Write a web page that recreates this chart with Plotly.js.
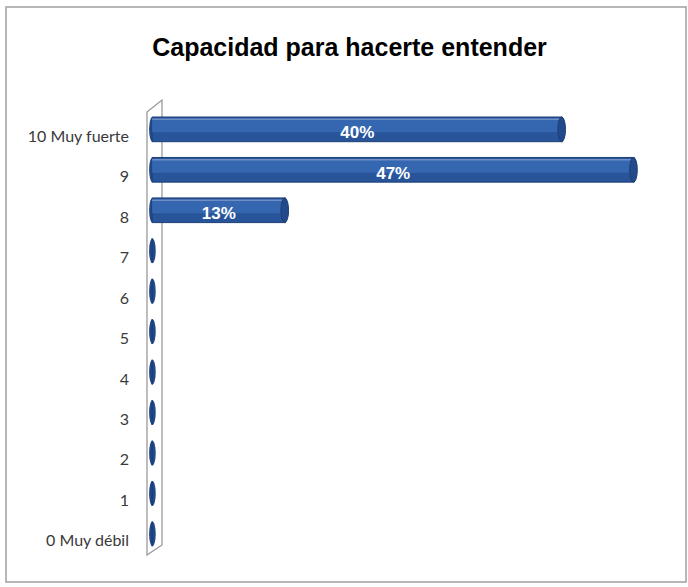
<!DOCTYPE html>
<html>
<head>
<meta charset="utf-8">
<script src="https://cdn.plot.ly/plotly-3.0.1.min.js"></script>
<style>html,body{margin:0;padding:0;background:#fff;}#chart{width:688px;height:587px;}</style>
</head>
<body>
<div id="chart"></div>
<script>
const categories = ["0 Muy débil", "1", "2", "3", "4", "5", "6", "7", "8", "9", "10 Muy fuerte"];
const values = [0, 0, 0, 0, 0, 0, 0, 0, 13, 47, 40];
const labels = ["", "", "", "", "", "", "", "", "13%", "47%", "40%"];
const chartTitle = "Capacidad para hacerte entender";

// visual style constants (not data)
const BAR_W = 0.61;      // bar thickness in category units
const LIFT = 0.17;       // 3D perspective lift of bars above the label line
const baseColor = "#28549A";
const lightColor = "#3567B1";
const capColor = "#22498A";

const baseTrace = {
  type: "bar", orientation: "h", y: categories, x: values,
  width: BAR_W, offset: LIFT - BAR_W / 2,
  marker: {color: baseColor, line: {color: "#1D3F75", width: 1}},
  hoverinfo: "skip"
};
const highlightTrace = {
  type: "bar", orientation: "h", y: categories, x: values,
  width: BAR_W * 0.55, offset: LIFT - BAR_W * 0.12,
  marker: {color: lightColor, line: {width: 0}},
  hoverinfo: "skip"
};
const edgeTrace = {
  type: "bar", orientation: "h", y: categories, x: values,
  width: BAR_W * 0.06, offset: LIFT + BAR_W * 0.38,
  marker: {color: "#6D8FC6", line: {width: 0}},
  hoverinfo: "skip"
};
const textTrace = {
  type: "bar", orientation: "h", y: categories, x: values,
  width: BAR_W, offset: LIFT - BAR_W / 2 - 0.09,
  marker: {color: "rgba(0,0,0,0)", line: {width: 0}},
  text: labels, textposition: "inside", insidetextanchor: "middle",
  textangle: 0, constraintext: "none",
  textfont: {family: "Liberation Sans, Arial, sans-serif", size: 17, color: "#ffffff", weight: "bold"},
  hoverinfo: "skip"
};

const shapes = [
  {type: "rect", xref: "paper", yref: "paper", x0: -0.2697, x1: 1.0405, y0: -0.0472, y1: 1.245,
   line: {color: "#a0a0a0", width: 1.5}, fillcolor: "rgba(0,0,0,0)", layer: "below"},
  {type: "path", xref: "paper", yref: "paper",
   path: "M 0.0019 0.0135 L 0.0019 1.009 L 0.0308 1.036 L 0.0308 0.036 Z",
   line: {color: "#9a9a9a", width: 1.3}, fillcolor: "rgba(0,0,0,0)", layer: "below"}
];
// cylinder caps: start cap for every category, end cap for non-zero values
values.forEach((v, i) => {
  shapes.push({type: "circle", xref: "x", yref: "y", layer: "below",
    x0: -0.3, x1: 0.35, y0: i + LIFT - BAR_W / 2, y1: i + LIFT + BAR_W / 2,
    fillcolor: capColor, line: {width: 0}});
  if (v > 0) {
    shapes.push({type: "circle", xref: "x", yref: "y", layer: "above",
      x0: v - 0.45, x1: v + 0.3, y0: i + LIFT - BAR_W / 2, y1: i + LIFT + BAR_W / 2,
      fillcolor: capColor, line: {color: "#1D3F75", width: 1}});
  }
});

const layout = {
  width: 688, height: 587,
  margin: {l: 146, r: 23, t: 116, b: 26},
  paper_bgcolor: "#ffffff", plot_bgcolor: "rgba(0,0,0,0)",
  showlegend: false, barmode: "overlay",
  title: {
    text: chartTitle,
    font: {family: "Liberation Sans, Arial, sans-serif", size: 25, color: "#000000", weight: "bold"},
    x: 0.508, xanchor: "center", y: 0.92, yanchor: "middle"
  },
  xaxis: {range: [-0.6, 50], visible: false, fixedrange: true},
  yaxis: {
    type: "category", categoryorder: "array", categoryarray: categories,
    range: [-0.5, 10.5],
    showgrid: false, zeroline: false, showline: false,
    ticks: "", ticklabelstandoff: 16,
    tickfont: {family: "Lato, sans-serif", size: 16, color: "#3a3a3a"}
  },
  shapes: shapes
};

Plotly.newPlot("chart", [baseTrace, highlightTrace, edgeTrace, textTrace], layout, {displayModeBar: false, staticPlot: true});
</script>
</body>
</html>
